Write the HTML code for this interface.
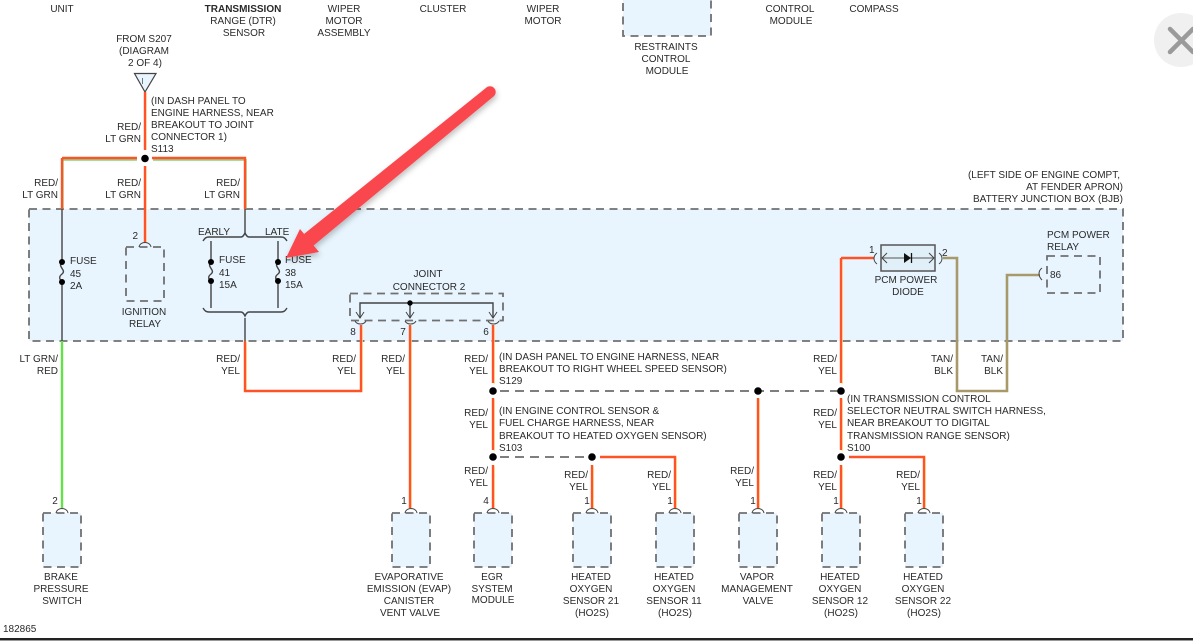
<!DOCTYPE html>
<html><head><meta charset="utf-8"><style>
html,body{margin:0;padding:0;background:#fff;width:1193px;height:644px;overflow:hidden}
svg{display:block}
text{font-family:"Liberation Sans",sans-serif;font-size:10px;fill:#2a2a2a}
.m{text-anchor:middle}.e{text-anchor:end}
.box{fill:#e8f5fe;stroke:#707070;stroke-width:1.8;stroke-dasharray:8 5.5}
.r{fill:none;stroke:#ff5228;stroke-width:2.4}
.y{fill:none;stroke:#ffe98a;stroke-width:1.2}
.g{fill:none;stroke:#6fc85a;stroke-width:1.2}
.k{fill:none;stroke:#444;stroke-width:1.4}
.d{fill:none;stroke:#555;stroke-width:1.4;stroke-dasharray:9 6}
.a{fill:none;stroke:#444;stroke-width:1}
.t{fill:none;stroke:#a8996a;stroke-width:2.6}
</style></head><body>
<svg width="1193" height="644" viewBox="0 0 1193 644" xmlns="http://www.w3.org/2000/svg">
<defs><filter id="sh" x="-10%" y="-10%" width="120%" height="120%"><feDropShadow dx="1" dy="3" stdDeviation="3" flood-color="#000" flood-opacity=".25"/></filter></defs>
<rect width="1193" height="644" fill="#fff"/>
<rect x="29" y="209" width="1094" height="132" class="box"/>
<rect x="623" y="-6" width="88" height="42" class="box"/>
<rect x="126" y="247" width="38" height="54" class="box"/>
<rect x="350" y="293.500" width="153" height="27" class="box"/>
<rect x="1047" y="256" width="53" height="37" class="box"/>
<rect x="43" y="513" width="38" height="54" class="box"/>
<rect x="392" y="513" width="38" height="54" class="box"/>
<rect x="474" y="513" width="38" height="54" class="box"/>
<rect x="573" y="513" width="38" height="54" class="box"/>
<rect x="656" y="513" width="38" height="54" class="box"/>
<rect x="739" y="513" width="38" height="54" class="box"/>
<rect x="822" y="513" width="38" height="54" class="box"/>
<rect x="905" y="513" width="38" height="54" class="box"/>

<!-- top triangle -->
<polygon points="134.500,73.500 156,73.500 145,92" fill="#e8f5fe" stroke="#444" stroke-width="1.2"/>
<line x1="142.500" y1="78" x2="142.500" y2="84" stroke="#555" stroke-width=".8"/>

<!-- green-edge wires -->
<path d="M63,159H137M153,159H246" class="g" transform="translate(0,1)"/>
<path d="M63,159V209M246,159V209" class="g"/>
<path d="M146,92V150M146,166V243" class="y"/>
<path d="M62,158H137M152,158H245V209M62,158V209M145,92V150M145,166V243" class="r"/>
<path d="M62,341V508" fill="none" stroke="#66e04a" stroke-width="2.4"/>

<!-- black inside box -->
<path d="M62,209V262M62,282V341" class="k"/>
<path d="M62,262C57,267 67,270 62,274C58,277 60,280 62,282" class="k"/>
<path d="M245,209V233M245,318V341" class="k"/>
<path d="M203,241C205,238 206,237 209,237H241C243,237 244,235 245,233C246,235 247,237 249,237H281C284,237 285,238 287,241" class="k"/>
<path d="M203,308C205,311 206,312 209,312H241C243,312 244,314 245,316C246,314 247,312 249,312H281C284,312 285,311 287,308" class="k"/>
<path d="M211,241V262M211,281V308M278,241V262M278,281V308" class="k"/>
<path d="M211,262C206,267 216,270 211,274C207,277 209,280 211,281" class="k"/>
<path d="M278,262C273,267 283,270 278,274C274,277 276,280 278,281" class="k"/>

<!-- joint connector -->
<path d="M360,318V303H493V318M410,303V318" class="k"/>
<path d="M356,312L360,318L364,312M406,312L410,318L414,312M489,312L493,318L497,312" class="a"/>
<path d="M355,321C357,325 364,325 366,321M405,321C407,325 414,325 416,321M488,321C490,325 497,325 499,321" class="a"/>

<!-- red/yellow wires -->
<g transform="translate(1.200,1.200)">
<path d="M245,341V390H361V325M410,325V508M493,325V383M493,398V450M493,465V508M592,465V508M600,456H675V508M758,398V508M841,258V383M841,398V450M841,465V508M849,456H924V508" fill="none" stroke="#ffe98a" stroke-width="1.200"/>
</g>
<path d="M245,341V391H361V325M410,325V508M493,325V383M493,398V450M493,465V508M592,465V508M600,457H675V508M758,398V508M841,258V383M841,398V450M841,465V508M849,457H924V508M841,258H874" class="r"/>

<!-- dashed -->
<path d="M500,391H841M500,457H592" class="d"/>

<!-- tan wires -->
<path d="M943,258H957V391H1007V275H1040" class="t"/>

<!-- diode -->
<rect x="881" y="245" width="54" height="26" fill="#e0eff8" stroke="#555" stroke-width="1.5"/>
<path d="M882,258H934" stroke="#555" stroke-width=".9" fill="none"/>
<path d="M887,253L882,258L887,263M929,253L934,258L929,263" class="a"/>
<polygon points="904,253 904,263 911,258" fill="#111"/>
<line x1="911.500" y1="253" x2="911.500" y2="263" stroke="#111" stroke-width="1.300"/>
<path d="M877,253C873,256 873,261 877,264M939,253C943,256 943,261 939,264" class="a"/>
<path d="M1042,268C1038,271 1038,276 1042,280" class="a"/>

<!-- connector arcs -->
<path d="M139,247C140,241 150,241 151,247M56,513C57,507 67,507 68,513M405,513C406,507 416,507 417,513M487,513C488,507 498,507 499,513M586,513C587,507 597,507 598,513M669,513C670,507 680,507 681,513M752,513C753,507 763,507 764,513M835,513C836,507 846,507 847,513M918,513C919,507 929,507 930,513" class="a"/>

<!-- dots -->
<g fill="#000">
<circle cx="145" cy="158.500" r="3.800"/><circle cx="62" cy="262" r="3"/><circle cx="62" cy="282" r="3"/>
<circle cx="211" cy="262" r="3"/><circle cx="211" cy="281" r="3"/><circle cx="278" cy="262" r="3"/><circle cx="278" cy="281" r="3"/>
<circle cx="410" cy="303" r="2.700"/><circle cx="493" cy="391" r="3.800"/><circle cx="493" cy="457" r="3.800"/><circle cx="592" cy="457" r="3.800"/>
<circle cx="758" cy="391" r="3.800"/><circle cx="841" cy="391" r="3.800"/><circle cx="841" cy="457" r="3.800"/>
</g>

<!-- labels -->
<text x="62" y="12" class="m">UNIT</text>
<text x="243" y="12" class="m" style="font-weight:bold">TRANSMISSION</text><text x="243" y="24" class="m">RANGE (DTR)</text><text x="244" y="36" class="m">SENSOR</text>
<text x="344" y="12" class="m">WIPER</text><text x="344" y="24" class="m">MOTOR</text><text x="344" y="36" class="m">ASSEMBLY</text>
<text x="443" y="12" class="m">CLUSTER</text>
<text x="543" y="12" class="m">WIPER</text><text x="543" y="24" class="m">MOTOR</text>
<text x="666" y="50" class="m">RESTRAINTS</text><text x="666" y="62" class="m">CONTROL</text><text x="667" y="74" class="m">MODULE</text>
<text x="790" y="12" class="m">CONTROL</text><text x="791" y="24" class="m">MODULE</text>
<text x="874" y="12" class="m">COMPASS</text>
<text x="144" y="42" class="m">FROM S207</text><text x="144" y="54" class="m">(DIAGRAM</text><text x="145" y="66" class="m">2 OF 4)</text>
<text x="151" y="104">(IN DASH PANEL TO</text><text x="151" y="116">ENGINE HARNESS, NEAR</text><text x="151" y="128">BREAKOUT TO JOINT</text><text x="151" y="140">CONNECTOR 1)</text><text x="151" y="152">S113</text>
<text x="141" y="130" class="e">RED/</text><text x="141" y="142" class="e">LT GRN</text>
<text x="58" y="186" class="e">RED/</text><text x="58" y="198" class="e">LT GRN</text>
<text x="141" y="186" class="e">RED/</text><text x="141" y="198" class="e">LT GRN</text>
<text x="240" y="186" class="e">RED/</text><text x="240" y="198" class="e">LT GRN</text>
<text x="1120" y="178" class="e">(LEFT SIDE OF ENGINE COMPT,</text><text x="1123" y="190" class="e">AT FENDER APRON)</text><text x="1123" y="202" class="e">BATTERY JUNCTION BOX (BJB)</text>
<text x="70" y="264">FUSE</text><text x="70" y="277">45</text><text x="70" y="289">2A</text>
<text x="138" y="239" class="e">2</text>
<text x="144" y="315" class="m">IGNITION</text><text x="145" y="327" class="m">RELAY</text>
<text x="198" y="235">EARLY</text><text x="265" y="235">LATE</text>
<text x="219" y="263">FUSE</text><text x="219" y="276">41</text><text x="219" y="288">15A</text>
<text x="285" y="263">FUSE</text><text x="285" y="276">38</text><text x="285" y="288">15A</text>
<text x="428" y="277" class="m">JOINT</text><text x="429" y="290" class="m">CONNECTOR 2</text>
<text x="353" y="335" class="m">8</text><text x="403" y="335" class="m">7</text><text x="486" y="335" class="m">6</text>
<text x="58" y="362" class="e">LT GRN/</text><text x="58" y="374" class="e">RED</text>
<text x="240" y="362" class="e">RED/</text><text x="240" y="374" class="e">YEL</text>
<text x="356" y="362" class="e">RED/</text><text x="356" y="374" class="e">YEL</text>
<text x="405" y="362" class="e">RED/</text><text x="405" y="374" class="e">YEL</text>
<text x="488" y="362" class="e">RED/</text><text x="488" y="374" class="e">YEL</text>
<text x="499" y="360">(IN DASH PANEL TO ENGINE HARNESS, NEAR</text><text x="499" y="372">BREAKOUT TO RIGHT WHEEL SPEED SENSOR)</text><text x="499" y="384">S129</text>
<text x="488" y="416" class="e">RED/</text><text x="488" y="428" class="e">YEL</text>
<text x="499" y="414">(IN ENGINE CONTROL SENSOR &amp;</text><text x="499" y="426">FUEL CHARGE HARNESS, NEAR</text><text x="499" y="439">BREAKOUT TO HEATED OXYGEN SENSOR)</text><text x="499" y="451">S103</text>
<text x="488" y="474" class="e">RED/</text><text x="488" y="486" class="e">YEL</text>
<text x="588" y="478" class="e">RED/</text><text x="588" y="490" class="e">YEL</text>
<text x="671" y="478" class="e">RED/</text><text x="671" y="490" class="e">YEL</text>
<text x="754" y="474" class="e">RED/</text><text x="754" y="486" class="e">YEL</text>
<text x="837" y="362" class="e">RED/</text><text x="837" y="374" class="e">YEL</text>
<text x="837" y="416" class="e">RED/</text><text x="837" y="428" class="e">YEL</text>
<text x="837" y="478" class="e">RED/</text><text x="837" y="490" class="e">YEL</text>
<text x="920" y="478" class="e">RED/</text><text x="920" y="490" class="e">YEL</text>
<text x="953" y="362" class="e">TAN/</text><text x="953" y="374" class="e">BLK</text>
<text x="1003" y="362" class="e">TAN/</text><text x="1003" y="374" class="e">BLK</text>
<text x="847" y="402">(IN TRANSMISSION CONTROL</text><text x="847" y="414">SELECTOR NEUTRAL SWITCH HARNESS,</text><text x="847" y="426">NEAR BREAKOUT TO DIGITAL</text><text x="847" y="439">TRANSMISSION RANGE SENSOR)</text><text x="847" y="451">S100</text>
<text x="869" y="253">1</text><text x="942" y="256">2</text>
<text x="906" y="283" class="m">PCM POWER</text><text x="908" y="295" class="m">DIODE</text>
<text x="1047" y="238">PCM POWER</text><text x="1047" y="250">RELAY</text>
<text x="1050" y="278">86</text>
<text x="55" y="504" class="m">2</text><text x="404" y="504" class="m">1</text><text x="486" y="504" class="m">4</text><text x="587" y="504" class="m">1</text><text x="670" y="504" class="m">1</text><text x="753" y="504" class="m">1</text><text x="836" y="504" class="m">1</text><text x="919" y="504" class="m">1</text>
<text x="61" y="580" class="m">BRAKE</text><text x="61" y="592" class="m">PRESSURE</text><text x="62" y="604" class="m">SWITCH</text>
<text x="409" y="580" class="m">EVAPORATIVE</text><text x="409" y="592" class="m">EMISSION (EVAP)</text><text x="409" y="604" class="m">CANISTER</text><text x="410" y="616" class="m">VENT VALVE</text>
<text x="492" y="580" class="m">EGR</text><text x="492" y="592" class="m">SYSTEM</text><text x="493" y="603" class="m">MODULE</text>
<text x="591" y="580" class="m">HEATED</text><text x="591" y="592" class="m">OXYGEN</text><text x="591" y="604" class="m">SENSOR 21</text><text x="592" y="616" class="m">(HO2S)</text>
<text x="674" y="580" class="m">HEATED</text><text x="674" y="592" class="m">OXYGEN</text><text x="674" y="604" class="m">SENSOR 11</text><text x="675" y="616" class="m">(HO2S)</text>
<text x="757" y="580" class="m">VAPOR</text><text x="757" y="592" class="m">MANAGEMENT</text><text x="758" y="604" class="m">VALVE</text>
<text x="840" y="580" class="m">HEATED</text><text x="840" y="592" class="m">OXYGEN</text><text x="840" y="604" class="m">SENSOR 12</text><text x="841" y="616" class="m">(HO2S)</text>
<text x="923" y="580" class="m">HEATED</text><text x="923" y="592" class="m">OXYGEN</text><text x="923" y="604" class="m">SENSOR 22</text><text x="924" y="616" class="m">(HO2S)</text>
<text x="3" y="632">182865</text>

<!-- bottom rule -->
<rect x="0" y="638" width="1193" height="2" fill="#222"/>
<rect x="0" y="640" width="1193" height="1" fill="#999"/>

<!-- red arrow -->
<g filter="url(#sh)">
<polygon points="493.500,96.500 486.500,87.500 304,234 313,246" fill="#f9474d"/>
<circle cx="490" cy="92" r="5.700" fill="#f9474d"/>
<polygon points="286,258 300,229 319,252" fill="#f9474d"/>
</g>

<!-- close button -->
<circle cx="1181" cy="40" r="27" fill="#f0f0f0"/>
<path d="M1170,29L1193,52M1193,29L1170,52" stroke="#9a9a9a" stroke-width="4.500" stroke-linecap="round" fill="none"/>
</svg>
</body></html>
